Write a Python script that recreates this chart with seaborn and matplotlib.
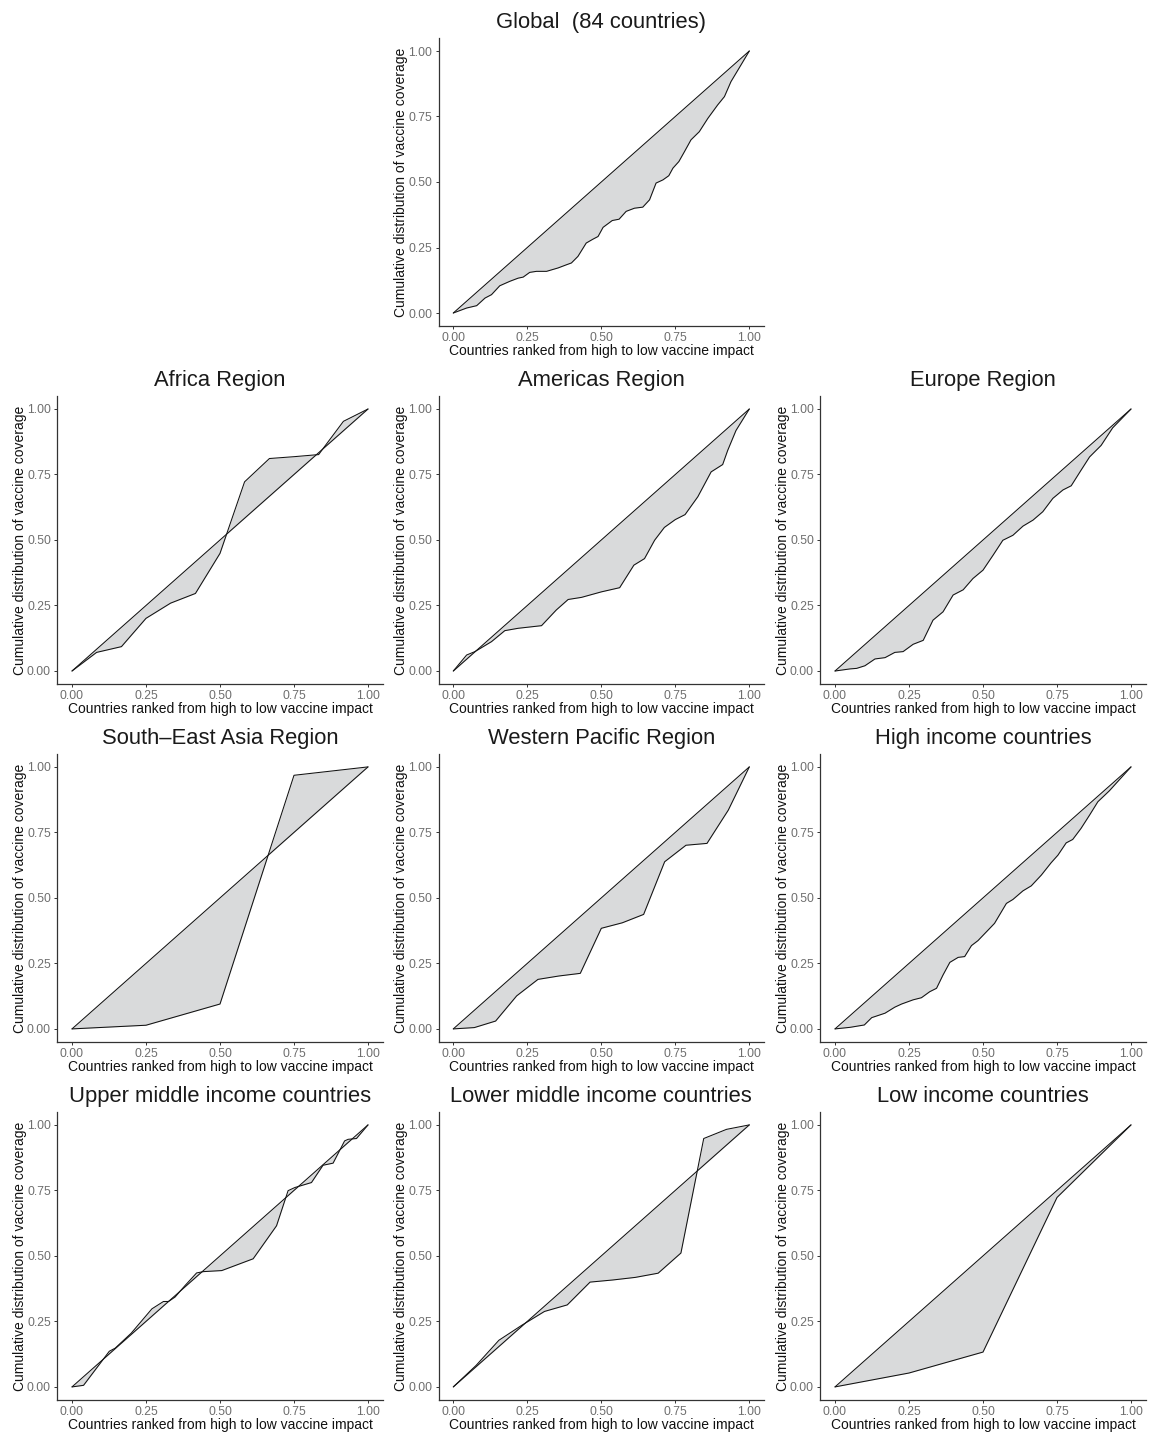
import numpy as np
import pandas as pd
import matplotlib
matplotlib.use("Agg")
import matplotlib.pyplot as plt
import seaborn as sns

# ---------------- data ----------------
global_x = [0, 0.045, 0.079, 0.107, 0.129, 0.157, 0.191, 0.219, 0.236, 0.258, 0.281, 0.315, 0.354,
            0.382, 0.399, 0.421, 0.449, 0.472, 0.489, 0.506, 0.537, 0.560, 0.584, 0.612, 0.640,
            0.663, 0.685, 0.708, 0.728, 0.742, 0.762, 0.781, 0.803, 0.831, 0.860, 0.893, 0.916,
            0.938, 0.972, 1.0]
global_y = [0, 0.019, 0.028, 0.057, 0.070, 0.104, 0.121, 0.133, 0.137, 0.155, 0.159, 0.159, 0.172,
            0.184, 0.191, 0.216, 0.267, 0.282, 0.292, 0.327, 0.353, 0.358, 0.388, 0.400, 0.404,
            0.432, 0.496, 0.508, 0.524, 0.553, 0.578, 0.616, 0.661, 0.692, 0.743, 0.794, 0.826,
            0.883, 0.947, 1.0]

africa_x = [0, 0.083, 0.167, 0.25, 0.333, 0.417, 0.5, 0.583, 0.667, 0.75, 0.833, 0.917, 1.0]
africa_y = [0, 0.071, 0.093, 0.201, 0.259, 0.296, 0.449, 0.722, 0.811, 0.818, 0.826, 0.953, 1.0]

americas_x = [0, 0.045, 0.073, 0.129, 0.174, 0.219, 0.298, 0.348, 0.388, 0.433, 0.5, 0.562, 0.610,
              0.646, 0.680, 0.713, 0.750, 0.783, 0.826, 0.871, 0.910, 0.927, 0.955, 1.0]
americas_y = [0, 0.061, 0.074, 0.112, 0.154, 0.163, 0.173, 0.233, 0.273, 0.281, 0.302, 0.318, 0.404,
              0.429, 0.499, 0.548, 0.578, 0.597, 0.665, 0.760, 0.788, 0.842, 0.918, 1.0]

europe_x = [0, 0.051, 0.073, 0.101, 0.135, 0.169, 0.202, 0.230, 0.264, 0.298, 0.331, 0.365, 0.399,
            0.433, 0.466, 0.5, 0.534, 0.567, 0.601, 0.635, 0.669, 0.702, 0.736, 0.770, 0.798,
            0.831, 0.860, 0.899, 0.938, 1.0]
europe_y = [0, 0.008, 0.010, 0.020, 0.046, 0.051, 0.071, 0.074, 0.102, 0.117, 0.194, 0.226, 0.290,
            0.310, 0.353, 0.385, 0.442, 0.499, 0.518, 0.553, 0.576, 0.608, 0.659, 0.691, 0.707,
            0.766, 0.817, 0.861, 0.928, 1.0]

sea_x = [0, 0.25, 0.5, 0.75, 1.0]
sea_y = [0, 0.014, 0.095, 0.968, 1.0]

wpac_x = [0, 0.071, 0.143, 0.214, 0.286, 0.357, 0.429, 0.5, 0.571, 0.643, 0.714, 0.786, 0.857, 0.929, 1.0]
wpac_y = [0, 0.005, 0.030, 0.126, 0.189, 0.202, 0.212, 0.384, 0.405, 0.437, 0.638, 0.701, 0.708, 0.835, 1.0]

high_x = [0, 0.051, 0.099, 0.124, 0.169, 0.202, 0.225, 0.264, 0.292, 0.320, 0.343, 0.365, 0.388,
          0.416, 0.438, 0.461, 0.483, 0.517, 0.539, 0.579, 0.601, 0.635, 0.663, 0.697, 0.730,
          0.753, 0.781, 0.803, 0.831, 0.860, 0.888, 0.927, 1.0]
high_y = [0, 0.006, 0.015, 0.043, 0.060, 0.083, 0.095, 0.111, 0.119, 0.142, 0.155, 0.206, 0.254,
          0.273, 0.276, 0.318, 0.337, 0.377, 0.403, 0.479, 0.494, 0.527, 0.546, 0.587, 0.634,
          0.663, 0.710, 0.723, 0.765, 0.816, 0.867, 0.909, 1.0]

upper_x = [0, 0.039, 0.126, 0.146, 0.20, 0.270, 0.309, 0.326, 0.348, 0.382, 0.421, 0.444, 0.506,
           0.612, 0.691, 0.730, 0.753, 0.809, 0.848, 0.882, 0.921, 0.933, 0.961, 1.0]
upper_y = [0, 0.006, 0.136, 0.148, 0.205, 0.298, 0.326, 0.326, 0.343, 0.387, 0.435, 0.440, 0.444,
           0.489, 0.615, 0.749, 0.761, 0.780, 0.846, 0.854, 0.939, 0.945, 0.948, 1.0]

lower_x = [0, 0.077, 0.154, 0.231, 0.308, 0.385, 0.462, 0.538, 0.615, 0.692, 0.769, 0.846, 0.923, 1.0]
lower_y = [0, 0.082, 0.178, 0.235, 0.288, 0.313, 0.400, 0.408, 0.418, 0.434, 0.511, 0.948, 0.983, 1.0]

low_x = [0, 0.25, 0.5, 0.75, 1.0]
low_y = [0, 0.053, 0.133, 0.723, 1.0]

titles = ["Global  (84 countries)", "Africa Region", "Americas Region", "Europe Region",
          "South\u2013East Asia Region", "Western Pacific Region", "High income countries",
          "Upper middle income countries", "Lower middle income countries", "Low income countries"]
series = [(global_x, global_y), (africa_x, africa_y), (americas_x, americas_y), (europe_x, europe_y),
          (sea_x, sea_y), (wpac_x, wpac_y), (high_x, high_y),
          (upper_x, upper_y), (lower_x, lower_y), (low_x, low_y)]
# grid positions (row, col)
positions = [(0, 1), (1, 0), (1, 1), (1, 2), (2, 0), (2, 1), (2, 2), (3, 0), (3, 1), (3, 2)]

tick_vals = [0, 0.25, 0.5, 0.75, 1.0]
tick_labels = ["0.00", "0.25", "0.50", "0.75", "1.00"]
xlabel = "Countries ranked from high to low vaccine impact"
ylabel = "Cumulative distribution of vaccine coverage"

# ---------------- style ----------------
sns.set_theme(style="white")
plt.rcParams['font.family'] = ['Liberation Sans', 'DejaVu Sans']

W, H = 1157, 1432
fig = plt.figure(figsize=(W / 100, H / 100), dpi=100)

col_left = [57.2, 438.5, 820.2]
row_bottom = [326.1, 684.1, 1042.0, 1400.0]
ax_w, ax_h = 325.6, 288.2

for title, (xs, ys), (r, c) in zip(titles, series, positions):
    ax = fig.add_axes([col_left[c] / W, 1 - row_bottom[r] / H, ax_w / W, ax_h / H])
    df = pd.DataFrame({"x": xs, "y": ys})
    diag = pd.DataFrame({"x": [0.0, 1.0], "y": [0.0, 1.0]})
    ax.fill_between(df["x"], df["y"], df["x"], color="#D9DADB", linewidth=0, interpolate=True, zorder=1)
    sns.lineplot(data=diag, x="x", y="y", ax=ax, color="#111111", linewidth=0.75, estimator=None, zorder=2)
    sns.lineplot(data=df, x="x", y="y", ax=ax, color="#111111", linewidth=0.75, estimator=None,
                 sort=False, zorder=3)
    ax.set_xlim(-0.05, 1.05)
    ax.set_ylim(-0.05, 1.05)
    ax.set_xticks(tick_vals)
    ax.set_xticklabels(tick_labels)
    ax.set_yticks(tick_vals)
    ax.set_yticklabels(tick_labels)
    ax.tick_params(axis="both", which="major", labelsize=8.8, labelcolor="#6E6E6E", color="#333333",
                   length=2.5, width=0.7, pad=2, bottom=True, left=True)
    ax.set_xlabel(xlabel, fontsize=10, color="#111111", labelpad=0)
    ax.set_ylabel(ylabel, fontsize=10, color="#111111", labelpad=0)
    ax.set_title(title, fontsize=15.8, color="#1A1A1A", pad=7)
    for s in ["top", "right"]:
        ax.spines[s].set_visible(False)
    for s in ["left", "bottom"]:
        ax.spines[s].set_color("#333333")
        ax.spines[s].set_linewidth(0.9)
    ax.set_facecolor("white")

fig.savefig("out.png", dpi=100, facecolor="white")
